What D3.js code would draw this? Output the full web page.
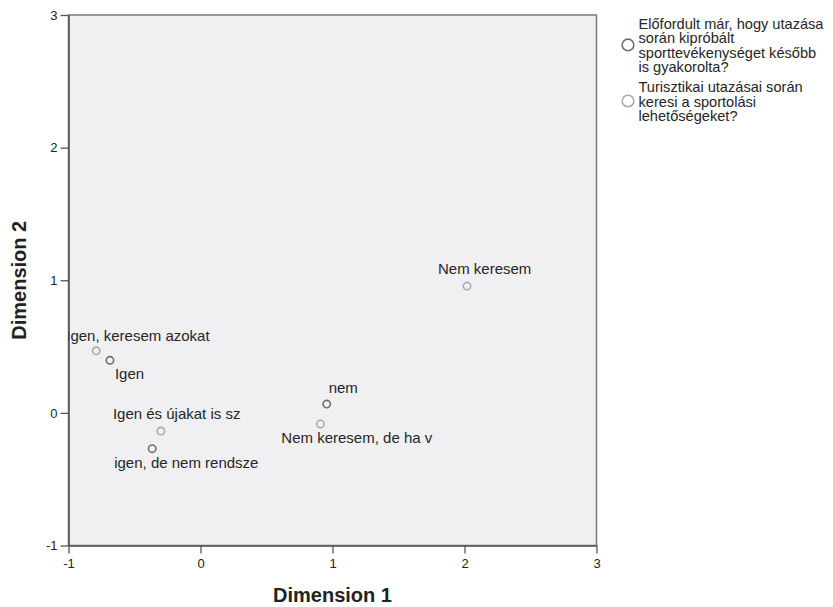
<!DOCTYPE html>
<html>
<head>
<meta charset="utf-8">
<script src="https://cdn.jsdelivr.net/npm/d3@7"></script>
<style>
  body { margin: 0; background: #fff; }
  svg { display: block; font-family: "Liberation Sans", Arial, sans-serif; }
</style>
</head>
<body>
<svg id="chart" width="833" height="607"></svg>
<script>
// category points, series 1 (dark)
const tripLabels = ["Igen", "igen, de nem rendsze", "nem"];
const tripDim1 = [-0.686, -0.366, 0.956];
const tripDim2 = [0.396, -0.27, 0.066];

// category points, series 2 (light)
const searchLabels = ["Igen, keresem azokat", "Igen és újakat is sz", "Nem keresem, de ha v", "Nem keresem"];
const searchDim1 = [-0.79, -0.30, 0.908, 2.019];
const searchDim2 = [0.468, -0.137, -0.084, 0.956];

const tickValues = [-1, 0, 1, 2, 3];

const legendLines = [
  ["Előfordult már, hogy utazása", "során kipróbált", "sporttevékenységet később", "is gyakorolta?"],
  ["Turisztikai utazásai során", "keresi a sportolási", "lehetőségeket?"]
];

// label placement relative to the point (start anchor, baseline)
const tripLabelOffset = [[5, 19], [-38, 19], [2, -11]];
const searchLabelOffset = [[-30, -10], [-48, -12], [-39, 19], [-29, -12]];

const colors = ["#6e6e6e", "#ababab"];

const svg = d3.select("#chart");
const margin = { left: 68.5, top: 15, right: 596.5, bottom: 545.5 };

const x = d3.scaleLinear().domain([-1, 3]).range([margin.left, margin.right]);
const y = d3.scaleLinear().domain([-1, 3]).range([margin.bottom, margin.top]);

svg.append("defs").append("clipPath").attr("id", "plotClip")
  .append("rect")
  .attr("x", x(-1)).attr("y", y(3))
  .attr("width", x(3) - x(-1)).attr("height", y(-1) - y(3));

// plot background + frame
svg.append("rect")
  .attr("x", x(-1)).attr("y", y(3))
  .attr("width", x(3) - x(-1)).attr("height", y(-1) - y(3))
  .attr("fill", "#f0f0f2")
  .attr("stroke", "#7a7a7a")
  .attr("stroke-width", 1.5);

const xAxis = svg.append("g")
  .attr("transform", `translate(0,${y(-1)})`)
  .call(d3.axisBottom(x).tickValues(tickValues).tickSize(8).tickSizeOuter(0).tickPadding(5).tickFormat(d3.format("d")));

const yAxis = svg.append("g")
  .attr("transform", `translate(${x(-1)},0)`)
  .call(d3.axisLeft(y).tickValues(tickValues).tickSize(8).tickSizeOuter(0).tickPadding(3).tickFormat(d3.format("d")));

[xAxis, yAxis].forEach(g => {
  g.select(".domain").attr("stroke", "#555").attr("stroke-width", 1.6);
  g.selectAll(".tick line").attr("stroke", "#555").attr("stroke-width", 1.3);
  g.selectAll(".tick text")
    .attr("fill", "#222")
    .style("font-size", "13px")
    .style("font-family", "'Liberation Sans', Arial, sans-serif");
});
// minus sign as plain hyphen
svg.selectAll(".tick text").text(d => d < 0 ? "-" + Math.abs(d) : d);

// axis titles
svg.append("text")
  .attr("x", (x(-1) + x(3)) / 2).attr("y", 602)
  .attr("text-anchor", "middle")
  .attr("font-weight", "bold").attr("font-size", 20).attr("fill", "#222")
  .text("Dimension 1");

svg.append("text")
  .attr("transform", `translate(26,${(y(-1) + y(3)) / 2}) rotate(-90)`)
  .attr("text-anchor", "middle")
  .attr("font-weight", "bold").attr("font-size", 20).attr("fill", "#222")
  .text("Dimension 2");

// points and labels
const series = [
  { labels: tripLabels, d1: tripDim1, d2: tripDim2, off: tripLabelOffset, color: colors[0] },
  { labels: searchLabels, d1: searchDim1, d2: searchDim2, off: searchLabelOffset, color: colors[1] }
];

const plot = svg.append("g").attr("clip-path", "url(#plotClip)");

series.forEach(s => {
  const pts = s.labels.map((l, i) => ({ label: l, x: s.d1[i], y: s.d2[i], off: s.off[i] }));
  plot.selectAll(null).data(pts).enter().append("circle")
    .attr("cx", d => x(d.x)).attr("cy", d => y(d.y))
    .attr("r", 3.7)
    .attr("fill", "none")
    .attr("stroke", s.color)
    .attr("stroke-width", 1.6);
  plot.selectAll(null).data(pts).enter().append("text")
    .attr("x", d => x(d.x) + d.off[0]).attr("y", d => y(d.y) + d.off[1])
    .attr("font-size", 15).attr("fill", "#262626")
    .text(d => d.label);
});

// legend
const legend = svg.append("g");
const lineH = 14.3;
let ly = 29;
legendLines.forEach((lines, i) => {
  const top = ly;
  lines.forEach((t, j) => {
    legend.append("text")
      .attr("x", 638.5).attr("y", ly + j * lineH)
      .attr("font-size", 14.6).attr("fill", "#262626")
      .text(t);
  });
  const mid = (top - 11 + ly + (lines.length - 1) * lineH) / 2;
  legend.append("circle")
    .attr("cx", 628).attr("cy", mid)
    .attr("r", 5.8)
    .attr("fill", "none")
    .attr("stroke", colors[i])
    .attr("stroke-width", 1.6);
  ly += lines.length * lineH + 6;
});
</script>
</body>
</html>
